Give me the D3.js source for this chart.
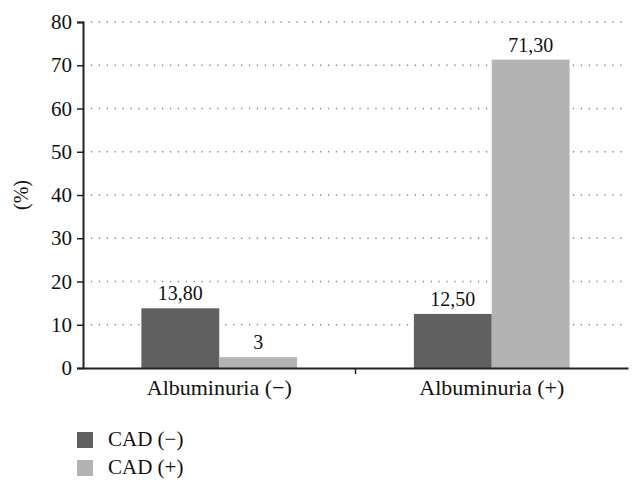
<!DOCTYPE html>
<html>
<head>
<meta charset="utf-8">
<script src="https://cdn.jsdelivr.net/npm/d3@7"></script>
<style>
  body { margin: 0; background: #fff; }
  text { font-family: "Liberation Serif", "DejaVu Serif", serif; fill: #111; }
</style>
</head>
<body>
<div id="chart"></div>
<script>
// data
let categories = ['Albuminuria (\u2212)', 'Albuminuria (+)'];
let seriesNames = ['CAD (\u2212)', 'CAD (+)'];
let cadNeg = [13.8, 12.5];
let cadPos = [2.5, 71.3];
let valueLabels = [['13,80', '12,50'], ['3', '71,30']];
let yTicks = [0, 10, 20, 30, 40, 50, 60, 70, 80];
let colors = ['#606060', '#b3b3b3'];

let margin = {top: 22, right: 14, bottom: 123, left: 83};
let width = 642 - margin.left - margin.right;
let height = 491 - margin.top - margin.bottom;

let svg = d3.select('#chart').append('svg')
    .attr('width', 642)
    .attr('height', 491)
  .append('g')
    .attr('transform', 'translate(' + margin.left + ',' + margin.top + ')');

let x = d3.scaleBand().domain(categories).range([0, width]).paddingInner(0).paddingOuter(0);
let xs = d3.scaleBand().domain([0, 1]).range([0, x.bandwidth()]).paddingOuter(0.75).paddingInner(0);
let y = d3.scaleLinear().domain([0, 80]).range([height, 0]);

// dotted grid lines
svg.selectAll('.grid')
  .data(yTicks.filter(function(d) { return d > 0; }))
  .enter().append('line')
    .attr('x1', 0).attr('x2', width)
    .attr('y1', function(d) { return y(d); })
    .attr('y2', function(d) { return y(d); })
    .style('stroke', '#888')
    .style('stroke-width', 1.3)
    .style('stroke-dasharray', '1.3,6.6');

// bars
let series = [cadNeg, cadPos];
series.forEach(function(vals, si) {
  svg.selectAll('.bar' + si)
    .data(vals)
    .enter().append('rect')
      .attr('x', function(d, i) { return x(categories[i]) + xs(si); })
      .attr('width', xs.bandwidth())
      .attr('y', function(d) { return y(d); })
      .attr('height', function(d) { return height - y(d); })
      .style('fill', colors[si]);

  svg.selectAll('.lbl' + si)
    .data(vals)
    .enter().append('text')
      .attr('x', function(d, i) { return x(categories[i]) + xs(si) + xs.bandwidth() / 2; })
      .attr('y', function(d) { return y(d) - 8; })
      .attr('text-anchor', 'middle')
      .style('font-size', '20px')
      .text(function(d, i) { return valueLabels[si][i]; });
});

// y axis
let yAxis = svg.append('g')
  .call(d3.axisLeft(y).tickValues(yTicks).tickSize(6).tickPadding(5));
yAxis.select('.domain').style('stroke', '#222').style('stroke-width', 2);
yAxis.selectAll('.tick line').style('stroke', '#222').style('stroke-width', 1.5);
yAxis.selectAll('.tick text')
  .style('font-size', '21px')
  .style('font-family', '"Liberation Serif", serif')
  .style('fill', '#111');

// x axis
let xAxis = svg.append('g')
  .attr('transform', 'translate(0,' + height + ')')
  .call(d3.axisBottom(x).tickSize(0).tickPadding(11));
xAxis.select('.domain').style('stroke', '#222').style('stroke-width', 2);
xAxis.selectAll('.tick text')
  .style('font-size', '22px')
  .style('font-family', '"Liberation Serif", serif')
  .style('fill', '#111');

// category divider tick
svg.append('line')
  .attr('x1', x(categories[1])).attr('x2', x(categories[1]))
  .attr('y1', height).attr('y2', height + 6)
  .style('stroke', '#222')
  .style('stroke-width', 1.5);

// y label
svg.append('text')
  .attr('transform', 'translate(' + (-55) + ',' + (height / 2) + ') rotate(-90)')
  .attr('text-anchor', 'middle')
  .style('font-size', '20px')
  .text('(%)');

// legend
let legend = svg.selectAll('.legend')
  .data(seriesNames)
  .enter().append('g')
    .attr('transform', function(d, i) { return 'translate(-6,' + (410 + i * 28) + ')'; });

legend.append('rect')
  .attr('width', 16).attr('height', 16)
  .style('fill', function(d, i) { return colors[i]; });

legend.append('text')
  .attr('x', 31).attr('y', 14)
  .style('font-size', '21px')
  .text(function(d) { return d; });
</script>
</body>
</html>
